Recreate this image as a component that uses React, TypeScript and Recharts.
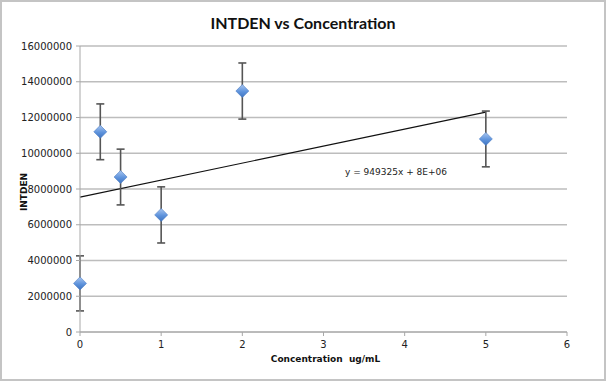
import {
  ErrorBar,
  ReferenceLine,
  Scatter,
  ScatterChart,
  CartesianGrid,
  XAxis,
  YAxis,
} from "recharts";

// concentration (ug/mL)
const concentrations = [0, 0.25, 0.5, 1, 2, 5];
// INTDEN means
const intden = [2720000, 11200000, 8670000, 6550000, 13480000, 10800000];
// error bar half-widths
const errors = [1540000, 1560000, 1560000, 1570000, 1570000, 1560000];

const xTicks = [0, 1, 2, 3, 4, 5, 6];
const yTicks = [0, 2000000, 4000000, 6000000, 8000000, 10000000, 12000000, 14000000, 16000000];

// linear trendline y = 949325x + b
const slope = 949325;
const intercept = 7550000;
const trendX = [0, 5];

const data = concentrations.map((x, i) => ({ x, y: intden[i], err: errors[i] }));

const tickStyle = { fontSize: 10, fill: "#222", fontFamily: "DejaVu Sans, Verdana, sans-serif" };

function Diamond(props: any) {
  const { cx, cy, index } = props;
  const r = 6.5;
  const id = `dg${index}`;
  return (
    <g>
      <defs>
        <linearGradient id={id} x1="0" y1="0" x2="0" y2="1">
          <stop offset="0%" stopColor="#a9c6f0" />
          <stop offset="55%" stopColor="#5e93dc" />
          <stop offset="100%" stopColor="#3f74c0" />
        </linearGradient>
      </defs>
      <polygon
        points={`${cx},${cy - r} ${cx + r},${cy} ${cx},${cy + r} ${cx - r},${cy}`}
        fill={`url(#${id})`}
        stroke="#4a7cc4"
        strokeWidth={0.6}
      />
    </g>
  );
}

export default function App() {
  return (
    <div
      style={{
        position: "absolute",
        left: 0,
        top: 0,
        width: 606,
        height: 381,
        background: "#fff",
        border: "2px solid #c4c4c4",
        boxSizing: "border-box",
        fontFamily: "DejaVu Sans, Verdana, sans-serif",
      }}
    >
      <div
        style={{
          position: "absolute",
          left: 0,
          width: 602,
          top: 11,
          textAlign: "center",
          fontFamily: "Lato, Open Sans, sans-serif",
          fontWeight: 700,
          fontSize: 16,
          color: "#111",
        }}
      >
        INTDEN vs Concentration
      </div>
      <div
        style={{
          position: "absolute",
          left: 15,
          top: 180,
          width: 14,
          height: 20,
          fontSize: 9,
          fontWeight: 700,
          color: "#111",
        }}
      >
        <div
          style={{
            position: "absolute",
            left: "50%",
            top: "50%",
            transform: "translate(-50%, -50%) rotate(-90deg)",
            whiteSpace: "nowrap",
          }}
        >
          INTDEN
        </div>
      </div>
      <div
        style={{
          position: "absolute",
          left: 80,
          width: 487,
          top: 352,
          textAlign: "center",
          fontSize: 9,
          fontWeight: 700,
          color: "#111",
        }}
      >
        Concentration&nbsp; ug/mL
      </div>
      <div style={{ position: "absolute", left: -2, top: -2 }}>
        <ScatterChart width={606} height={381} margin={{ top: 46, right: 39, bottom: 29, left: 10 }}>
          <CartesianGrid vertical={false} stroke="#bdbdbd" strokeWidth={1.5} />
          <XAxis
            type="number"
            dataKey="x"
            domain={[0, 6]}
            ticks={xTicks}
            interval={0}
            tick={tickStyle}
            tickSize={4}
            tickMargin={5}
            stroke="#a8a8a8"
            height={20}
          />
          <YAxis
            type="number"
            dataKey="y"
            domain={[0, 16000000]}
            ticks={yTicks}
            interval={0}
            tick={tickStyle}
            tickSize={4}
            tickMargin={4}
            stroke="#a8a8a8"
            width={70}
          />
          <ReferenceLine
            segment={trendX.map((x) => ({ x, y: slope * x + intercept }))}
            stroke="#111"
            strokeWidth={1.2}
            ifOverflow="visible"
          />
          <Scatter data={data} shape={Diamond} isAnimationActive={false}>
            <ErrorBar dataKey="err" direction="y" width={4} stroke="#555" strokeWidth={1.6} />
          </Scatter>
        </ScatterChart>
      </div>
      <div
        style={{
          position: "absolute",
          left: 343,
          top: 165,
          fontSize: 9,
          color: "#222",
        }}
      >
        y = 949325x + 8E+06
      </div>
    </div>
  );
}
